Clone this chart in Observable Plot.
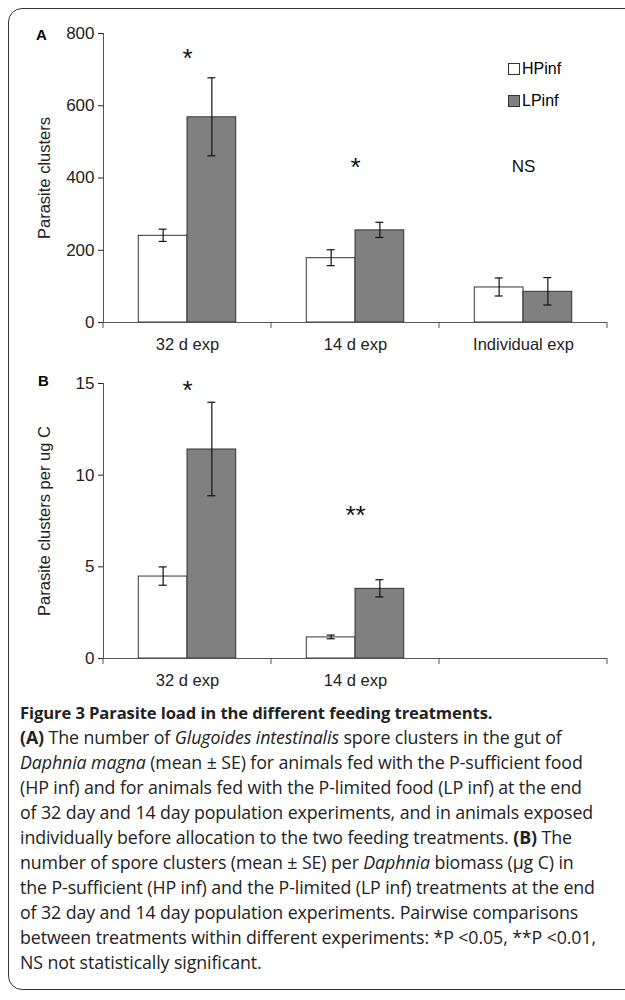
<!DOCTYPE html>
<html><head><meta charset="utf-8">
<script src="https://cdn.jsdelivr.net/npm/d3@7"></script>
<script src="https://cdn.jsdelivr.net/npm/@observablehq/plot@0.6"></script>
<style>
body{margin:0;background:#fff;font-family:"Liberation Sans",Arial,sans-serif;}
#frame{position:absolute;left:8px;top:8px;width:640px;height:982px;border:1.5px solid #333;border-radius:14px;box-sizing:border-box;}
#wrap{position:absolute;left:0;top:0;width:625px;}
.panel{position:relative;}
.plab{position:absolute;font-weight:bold;font-size:15px;}
.leg{position:absolute;font-size:16px;display:flex;align-items:center;}
.sw{width:10px;height:10px;border:1px solid #333;margin-right:2px;}
#cap{position:absolute;left:20px;top:700px;width:605px;font-family:"Open Sans",sans-serif;font-size:17.8px;line-height:25px;color:#222;white-space:nowrap;letter-spacing:-0.1px;}
#cap b.t{font-size:16.6px;}
</style></head><body>
<div id="frame"></div>
<div id="wrap">
<div class="panel" id="pa"></div>
<div class="panel" id="pb"></div>
</div>
<div id="cap"><b class="t">Figure 3 Parasite load in the different feeding treatments.</b><br>
<b>(A)</b> The number of <i>Glugoides intestinalis</i> spore clusters in the gut of<br>
<i>Daphnia magna</i> (mean ± SE) for animals fed with the P-sufficient food<br>
(HP inf) and for animals fed with the P-limited food (LP inf) at the end<br>
of 32 day and 14 day population experiments, and in animals exposed<br>
individually before allocation to the two feeding treatments. <b>(B)</b> The<br>
number of spore clusters (mean ± SE) per <i>Daphnia</i> biomass (μg C) in<br>
the P-sufficient (HP inf) and the P-limited (LP inf) treatments at the end<br>
of 32 day and 14 day population experiments. Pairwise comparisons<br>
between treatments within different experiments: *P &lt;0.05, **P &lt;0.01,<br>
NS not statistically significant.</div>
<script>
const groupsA = ["32 d exp", "14 d exp", "Individual exp"];
const hpA = [240, 178, 97];
const hpAse = [17, 22, 25];
const lpA = [568, 255, 85];
const lpAse = [108, 21, 38];
const sigA = [["*", 0, 730], ["*", 1, 428], ["NS", 2, 432]];

const groupsB = ["32 d exp", "14 d exp"];
const hpB = [4.47, 1.15];
const hpBse = [0.5, 0.1];
const lpB = [11.4, 3.8];
const lpBse = [2.55, 0.47];
const sigB = [["*", 0, 14.6], ["**", 1, 7.8]];

const W = 0.29;

function rows(groups, hp, hpse, lp, lpse) {
  const r = [];
  groups.forEach((g, i) => {
    r.push({i, g, t: "HPinf", v: hp[i], se: hpse[i], x1: i - W, x2: i, xc: i - W / 2});
    r.push({i, g, t: "LPinf", v: lp[i], se: lpse[i], x1: i, x2: i + W, xc: i + W / 2});
  });
  return r;
}

function panel(el, groups, data, sig, yDomain, yTicks, yLabel, h, mt, mb) {
  const p = Plot.plot({
    width: 625, height: h, marginLeft: 103, marginRight: 18, marginTop: mt, marginBottom: mb,
    style: {fontFamily: "Liberation Sans, Arial, sans-serif", fontSize: "15px", color: "#222", overflow: "visible"},
    x: {domain: [-0.5, 2.5], axis: null},
    y: {domain: yDomain, label: null},
    marks: [
      Plot.axisY({ticks: yTicks, tickSize: 5, tickPadding: 4, label: null, fontSize: 17}),
      Plot.ruleX([-0.5], {stroke: "#555"}),
      Plot.rectY(data, {x1: "x1", x2: "x2", y: "v", fill: d => d.t === "HPinf" ? "white" : "#808080", stroke: "#333", strokeWidth: 1}),
      Plot.ruleX(data, {x: "xc", y1: d => d.v - d.se, y2: d => d.v + d.se, stroke: "#111", strokeWidth: 1.2}),
      Plot.ruleY([0], {stroke: "#555"}),
      Plot.text(groups, {x: (d, i) => i, y: yDomain[0], text: d => d, dy: 22, fontSize: 16.5, fill: "#222"}),
      Plot.text(sig, {x: d => d[1], y: d => d[2], text: d => d[0], fontSize: d => d[0] === "NS" ? 17 : 26, fill: "#111", letterSpacing: 2})
    ]
  });
  const xs = d3.scaleLinear().domain([-0.5, 2.5]).range([103, 607]);
  const ys = d3.scaleLinear().domain(yDomain).range([h - mb, mt]);
  const g = d3.select(p).append("g").attr("stroke", "#111").attr("stroke-width", 1.2);
  // error bar caps
  data.forEach(d => [d.v - d.se, d.v + d.se].forEach(v =>
    g.append("line").attr("x1", xs(d.xc) - 4).attr("x2", xs(d.xc) + 4).attr("y1", ys(v)).attr("y2", ys(v))));
  // group boundary ticks pointing down
  const yb = h - mb;
  [-0.5, 0.5, 1.5, 2.5].forEach(v => g.append("line").attr("stroke", "#555").attr("stroke-width", 1)
    .attr("x1", xs(v)).attr("x2", xs(v)).attr("y1", yb).attr("y2", yb + 6));
  p.querySelectorAll("text").forEach(t => t.style.fontFamily = "Liberation Sans, Arial, sans-serif");
  el.append(p);
  const lab = document.createElement("div");
  lab.style.cssText = `position:absolute;left:44px;top:${mt + (h - mt - mb) / 2}px;transform:translate(-50%,-50%) rotate(-90deg);font-size:16.5px;white-space:nowrap;color:#222`;
  lab.textContent = yLabel;
  el.append(lab);
}

panel(document.getElementById("pa"), groupsA, rows(groupsA, hpA, hpAse, lpA, lpAse), sigA,
  [0, 800], [0, 200, 400, 600, 800], "Parasite clusters", 345, 33, 23);
panel(document.getElementById("pb"), groupsB, rows(groupsB, hpB, hpBse, lpB, lpBse), sigB,
  [0, 15], [0, 5, 10, 15], "Parasite clusters per ug C", 355, 38, 42);

document.getElementById("pa").insertAdjacentHTML("beforeend", `<div class="plab" style="left:36px;top:26px">A</div>
<div class="leg" style="left:508px;top:60px"><div class="sw" style="background:#fff"></div>HPinf</div>
<div class="leg" style="left:508px;top:92px"><div class="sw" style="background:#808080"></div>LPinf</div>`);
document.getElementById("pb").insertAdjacentHTML("beforeend", `<div class="plab" style="left:38px;top:27px">B</div>`);
</script>
</body></html>
